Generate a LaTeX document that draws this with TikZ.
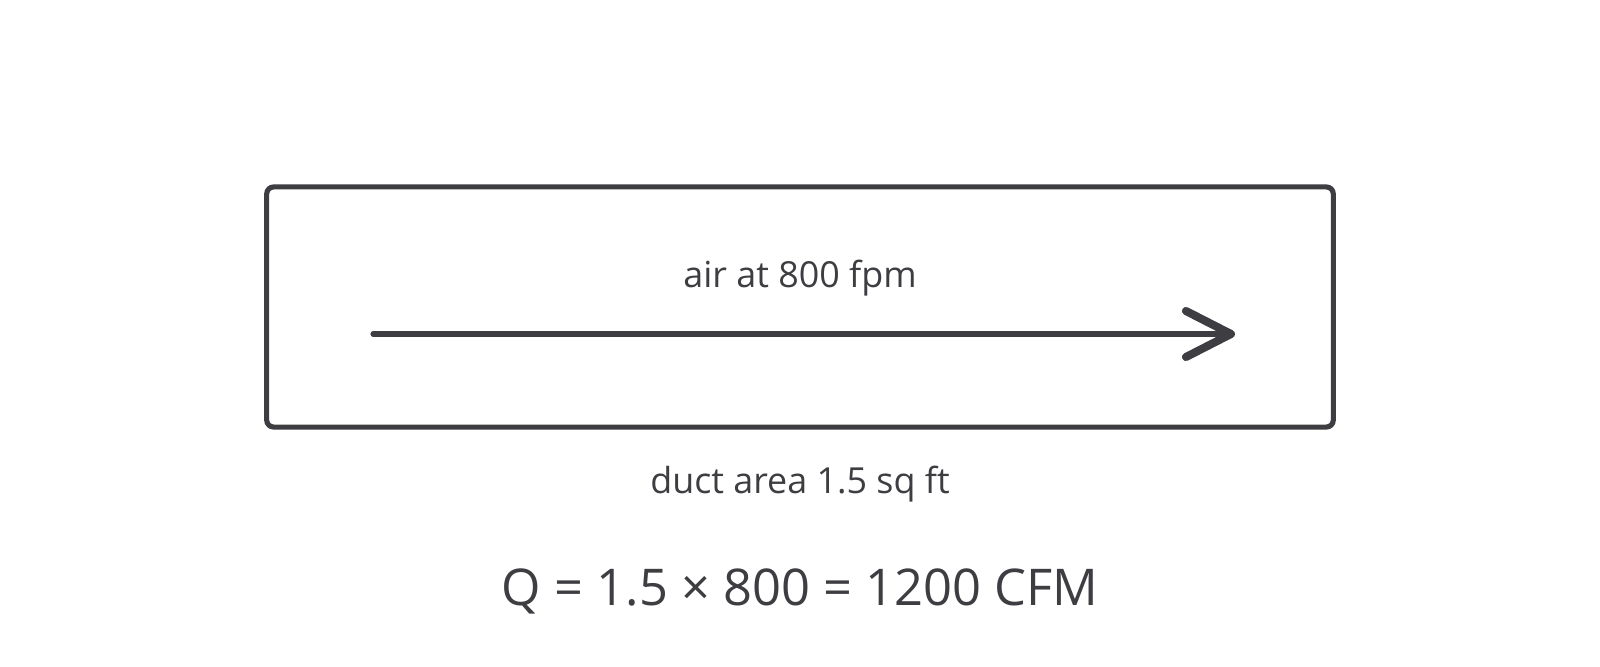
\documentclass[tikz,border=0pt]{standalone}
\usepackage{fontspec}
\setmainfont{Open Sans}
\usetikzlibrary{arrows.meta}
\definecolor{ink}{HTML}{3D3D42}
\begin{document}
\begin{tikzpicture}[x=0.01cm,y=-0.01cm,
  boxstyle/.style={draw=ink, line width=1.45pt, rounded corners=0.07cm, minimum width=10.66cm, minimum height=2.40cm, inner sep=0pt},
  flow/.style={draw=ink, line width=1.45pt, line cap=round, -{Straight Barb[length=4.5mm,width=4.6mm,line width=2.3pt,round]}},
  lbl/.style={text=ink, inner sep=0pt, font=\fontsize{10.2}{12}\selectfont},
  eqn/.style={text=ink, inner sep=0pt, font=\fontsize{14.4}{17}\selectfont}]
  \useasboundingbox (0,0) rectangle (1600,667);
  \node[boxstyle] (duct) at (800,307) {};
  \coordinate (a0) at (373,334);
  \coordinate (a1) at (1235,334);
  \draw[flow] (a0) -- (a1);
  \node[lbl] (air) at (800,278) {air at 800 fpm};
  \node[lbl] (area) at (800,484) {duct area 1.5 sq ft};
  \node[eqn] (q) at (800,591) {Q = 1.5 × 800 = 1200 CFM};
\end{tikzpicture}
\end{document}
